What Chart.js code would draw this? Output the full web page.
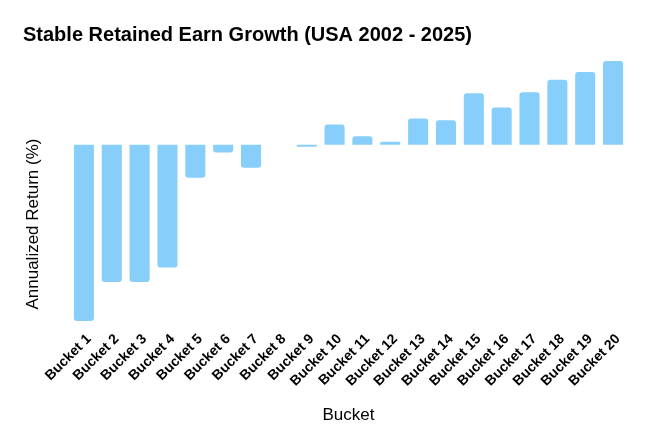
<!DOCTYPE html>
<html lang="en">
<head>
	<meta charset="UTF-8">
	<title>Stable Retained Earn Growth</title>
	<script src="https://cdn.jsdelivr.net/npm/chart.js"></script>
	<style>
		html, body { margin: 0; padding: 0; background: #fff; }
		#wrap { width: 654px; height: 448px; }
	</style>
</head>
<body>
	<div id="wrap"><canvas id="bar-chart"></canvas></div>

	<script>
		// buckets and annualized returns (%)
		const buckets = ['Bucket 1', 'Bucket 2', 'Bucket 3', 'Bucket 4', 'Bucket 5', 'Bucket 6', 'Bucket 7',
			'Bucket 8', 'Bucket 9', 'Bucket 10', 'Bucket 11', 'Bucket 12', 'Bucket 13', 'Bucket 14',
			'Bucket 15', 'Bucket 16', 'Bucket 17', 'Bucket 18', 'Bucket 19', 'Bucket 20'];
		const returns = [-10.4, -8.1, -8.1, -7.25, -1.95, -0.45, -1.35, 0, -0.12, 1.2,
			0.5, 0.18, 1.55, 1.45, 3.05, 2.2, 3.1, 3.85, 4.3, 4.95];

		const fontFamily = '"Liberation Sans", Arial, sans-serif';
		// y title sits a little below centre in the original, nudge it with trailing spaces
		const nbsp = '\u00a0';

		const chart = new Chart(document.getElementById('bar-chart'), {
			type: 'bar',
			data: {
				labels: buckets,
				datasets: [{
					label: 'Annualized Return (%)',
					data: returns,
					backgroundColor: '#87cefa',
					borderRadius: 3,
					borderSkipped: 'start'
				}]
			},
			options: {
				responsive: true,
				maintainAspectRatio: false,
				animation: false,
				layout: {
					padding: { left: 23, right: 27, top: 0, bottom: 18 }
				},
				plugins: {
					legend: { display: false },
					tooltip: { enabled: false },
					title: {
						display: true,
						text: 'Stable Retained Earn Growth (USA 2002 - 2025)',
						align: 'start',
						color: '#000',
						font: { family: fontFamily, size: 20, weight: 'bold' },
						padding: { top: 23, bottom: 14 }
					}
				},
				scales: {
					x: {
						grid: { display: false },
						border: { display: false },
						ticks: {
							color: '#000',
							autoSkip: false,
							minRotation: 45,
							maxRotation: 45,
							padding: 2,
							labelOffset: 5,
							font: { family: fontFamily, size: 14, weight: 'bold' }
						},
						title: {
							display: true,
							text: 'Bucket',
							color: '#000',
							font: { family: fontFamily, size: 17 },
							padding: { top: 14, bottom: 4 }
						}
					},
					y: {
						min: Math.min(...returns),
						max: Math.max(...returns),
						grid: { display: false },
						border: { display: false },
						ticks: { display: false },
						title: {
							display: true,
							text: 'Annualized Return (%)' + nbsp.repeat(14),
							color: '#000',
							font: { family: fontFamily, size: 17 },
							padding: { top: 0, bottom: 0 }
						},
						afterFit: function (scale) { scale.width = 47; }
					}
				}
			}
		});
	</script>
</body>
</html>
